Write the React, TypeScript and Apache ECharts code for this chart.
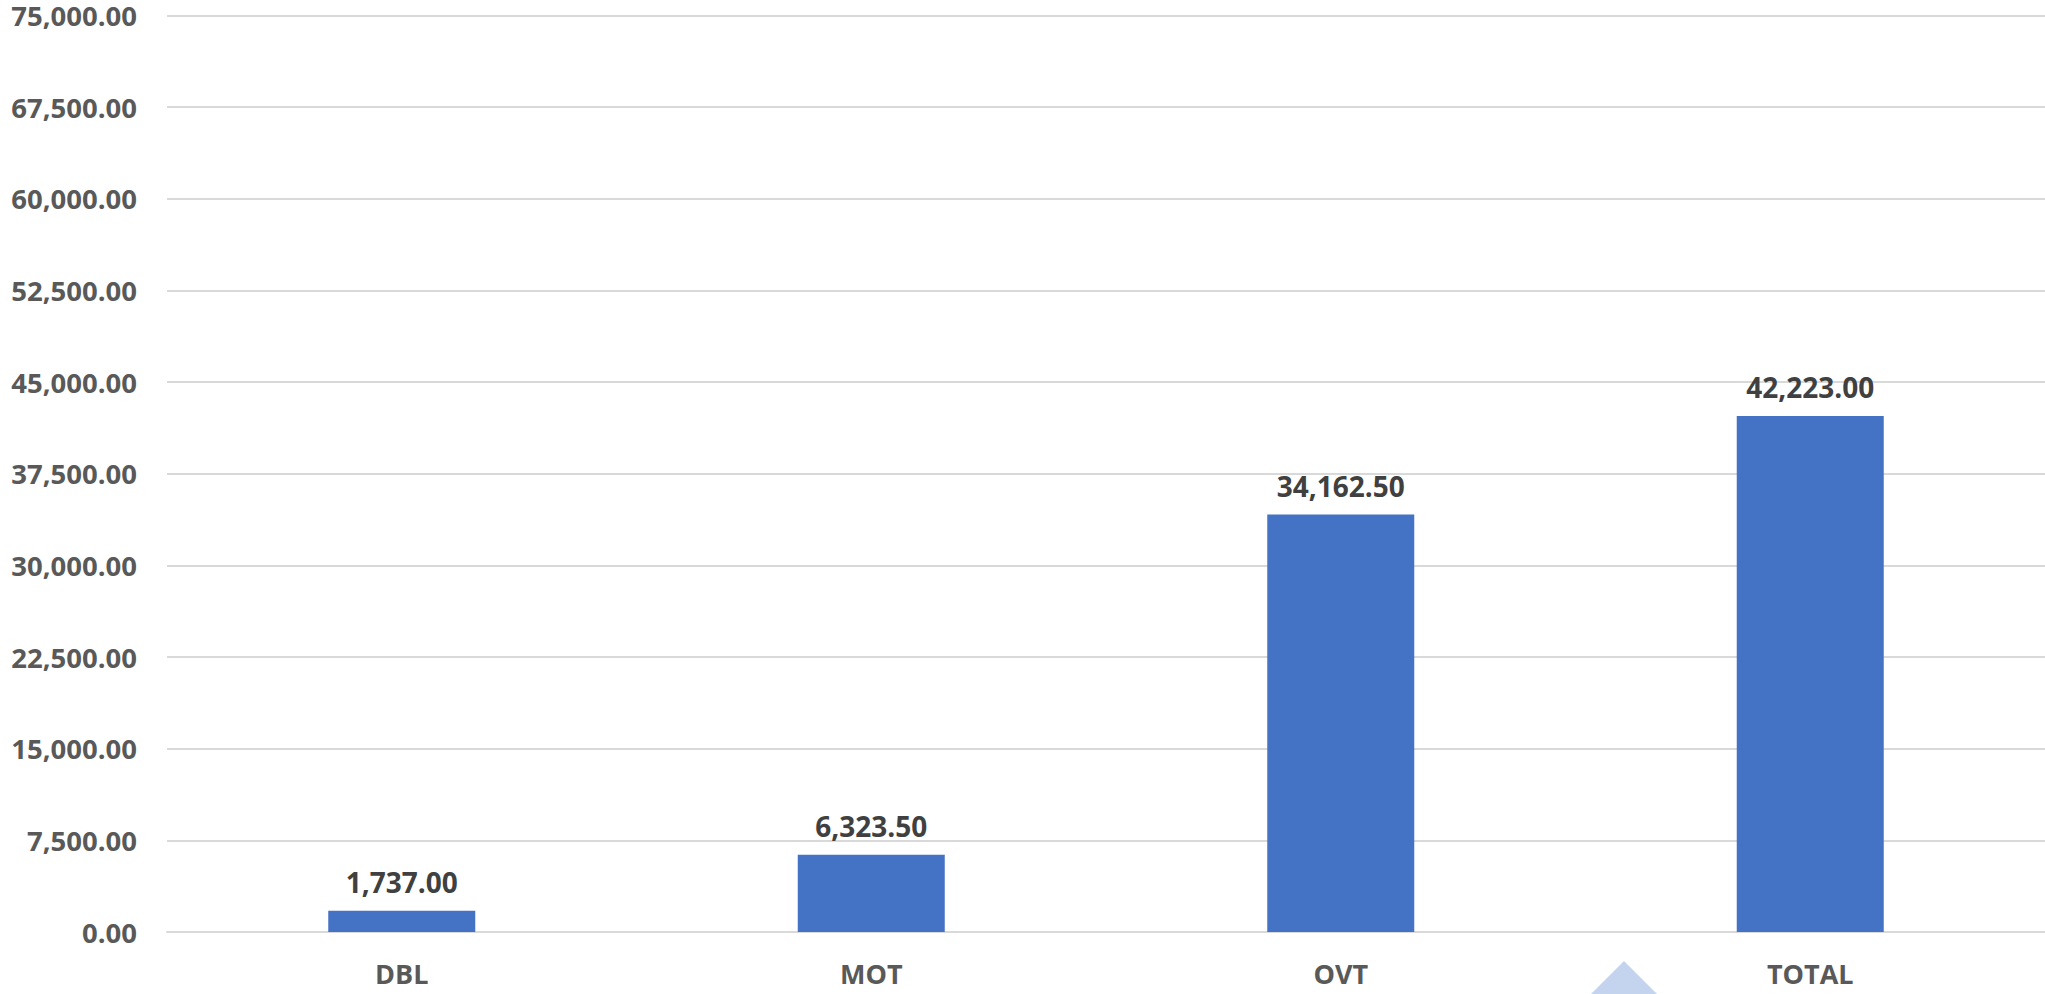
import React, { useEffect, useRef } from "react";
import * as echarts from "echarts";

const categories = ["DBL", "MOT", "OVT", "TOTAL"];
const values = [1737.0, 6323.5, 34162.5, 42223.0];
const yMin = 0;
const yMax = 75000;
const yInterval = 7500;

const fmt = (v: number) =>
  v.toLocaleString("en-US", { minimumFractionDigits: 2, maximumFractionDigits: 2 });

const FONT = "'Open Sans', 'Noto Sans', sans-serif";

export default function App() {
  const ref = useRef<HTMLDivElement>(null);
  useEffect(() => {
    document.body.style.margin = "0";
    const chart = echarts.init(ref.current!, null, { renderer: "svg" });
    chart.setOption({
      animation: false,
      backgroundColor: "#ffffff",
      grid: { left: 167, right: 0, top: 15.5, bottom: 62, containLabel: false },
      xAxis: {
        type: "category",
        data: categories,
        axisLine: { show: true, lineStyle: { color: "#d9d9d9", width: 2 } },
        axisTick: { show: false },
        axisLabel: {
          margin: 27,
          color: "#595959",
          fontFamily: FONT,
          fontWeight: "bold",
          fontSize: 27,
          lineHeight: 28,
        },
      },
      yAxis: {
        type: "value",
        min: yMin,
        max: yMax,
        interval: yInterval,
        axisLine: { show: false },
        axisTick: { show: false },
        splitLine: { lineStyle: { color: "#d9d9d9", width: 2 } },
        axisLabel: {
          margin: 30,
          color: "#595959",
          fontFamily: FONT,
          fontWeight: "bold",
          fontSize: 27.5,
          lineHeight: 28,
          formatter: (v: number) => fmt(v),
        },
      },
      series: [
        {
          type: "bar",
          data: values,
          barWidth: 147,
          itemStyle: { color: "#4472c4" },
          label: {
            show: true,
            position: "top",
            distance: 14,
            color: "#404040",
            fontFamily: FONT,
            fontWeight: "bold",
            fontSize: 28,
            lineHeight: 30,
            formatter: (p: any) => fmt(p.value),
          },
        },
      ],
      graphic: [
        {
          type: "polygon",
          shape: { points: [[1624, 961], [1590, 995], [1658, 995]] },
          style: { fill: "#c5d4ee" },
          silent: true,
        },
      ],
    });
    return () => chart.dispose();
  }, []);
  return <div ref={ref} style={{ width: 2045, height: 994 }} />;
}
